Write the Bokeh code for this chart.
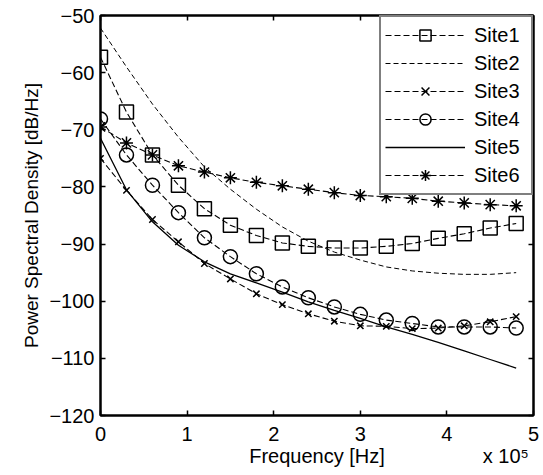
from bokeh.plotting import figure
from bokeh.models import Range1d, LinearAxis, Legend, LegendItem, FixedTicker
from bokeh.embed import file_html
from bokeh.resources import INLINE

# ---- data ----
freq_hz = [0, 30000, 60000, 90000, 120000, 150000, 180000, 210000, 240000,
           270000, 300000, 330000, 360000, 390000, 420000, 450000, 480000]
site1 = [-57.3, -66.9, -74.4, -79.7, -83.8, -86.7, -88.5, -89.8, -90.4,
         -90.7, -90.7, -90.4, -89.9, -89.0, -88.2, -87.2, -86.4]
site2 = [-52.2, -59.0, -65.5, -71.3, -76.5, -80.4, -83.9, -87.0, -89.5,
         -91.4, -92.8, -94.0, -94.7, -95.1, -95.3, -95.3, -95.0]
site3 = [-75.0, -80.6, -85.7, -89.6, -93.4, -96.1, -98.7, -100.6, -102.2,
         -103.5, -104.3, -104.4, -104.8, -104.7, -104.3, -103.6, -102.7]
site4 = [-68.1, -74.4, -79.7, -84.5, -88.9, -92.2, -95.2, -97.5, -99.4,
         -101.0, -102.3, -103.3, -103.9, -104.5, -104.5, -104.5, -104.7]
site5 = [-71.5, -80.5, -86.1, -90.2, -93.1, -95.2, -96.8, -98.4, -100.1,
         -101.6, -103.0, -104.5, -105.8, -107.2, -108.7, -110.2, -111.7]
site6 = [-69.5, -72.3, -74.4, -76.3, -77.4, -78.4, -79.2, -79.8, -80.4,
         -81.0, -81.5, -81.7, -82.0, -82.5, -82.8, -83.1, -83.3]
series_names = ["Site1", "Site2", "Site3", "Site4", "Site5", "Site6"]
x_ticks = [0, 1, 2, 3, 4, 5]
y_ticks = [-120, -110, -100, -90, -80, -70, -60, -50]
x_scale = 1e5
x_title = "Frequency [Hz]"
x_exponent = "x 10\u2075"
y_title = "Power Spectral Density [dB/Hz]"

FONT = "Liberation Sans"
x = [f / x_scale for f in freq_hz]

p = figure(width=543, height=475, output_backend="svg", toolbar_location=None,
           x_range=Range1d(0, 5), y_range=Range1d(-120, -50),
           min_border_left=100, min_border_right=10, min_border_top=15,
           min_border_bottom=60)
p.grid.visible = False
p.background_fill_color = "white"
p.border_fill_color = "white"
p.outline_line_color = "black"
p.outline_line_width = 2

def style_axis(ax, ticks, show_labels=True):
    ax.ticker = FixedTicker(ticks=ticks)
    ax.axis_line_color = "black"
    ax.axis_line_width = 2
    ax.major_tick_in = 5
    ax.major_tick_out = 0
    ax.major_tick_line_color = "black"
    ax.major_tick_line_width = 1.5
    ax.minor_tick_in = 0
    ax.minor_tick_out = 0
    ax.minor_tick_line_color = None
    ax.major_label_text_font = FONT
    ax.major_label_text_color = "black"
    if show_labels:
        ax.major_label_text_font_size = "20px"
    else:
        ax.major_label_overrides = {t: "" for t in ticks}
        ax.major_label_text_font_size = "1px"
        ax.major_label_standoff = 0

xa = p.xaxis[0]
ya = p.yaxis[0]
style_axis(xa, x_ticks)
style_axis(ya, y_ticks)
xa.major_label_standoff = 11
ya.major_label_standoff = 6
ya.axis_label = y_title
ya.axis_label_text_font = FONT
ya.axis_label_text_font_style = "normal"
ya.axis_label_text_color = "black"
ya.axis_label_text_font_size = "19px"
ya.axis_label_standoff = 4

# second row under the x axis: axis title (centred) and the x10^5 exponent note
title_pos = 2.5
exp_pos = 4.68
xa2 = LinearAxis(ticker=FixedTicker(ticks=[title_pos, exp_pos]),
                 major_label_overrides={title_pos: x_title, exp_pos: x_exponent},
                 axis_line_color=None, major_tick_line_color=None,
                 minor_tick_line_color=None, major_tick_in=0, major_tick_out=0,
                 minor_tick_in=0, minor_tick_out=0, major_label_standoff=1,
                 major_label_text_font=FONT, major_label_text_font_size="20px",
                 major_label_text_color="black")
p.add_layout(xa2, "below")

ra = LinearAxis()
style_axis(ra, y_ticks, show_labels=False)
p.add_layout(ra, "right")
ta = LinearAxis()
style_axis(ta, x_ticks, show_labels=False)
p.add_layout(ta, "above")

lw = 1.1
items = []
r1l = p.line(x, site1, line_color="black", line_width=lw, line_dash="6 3")
r1s = p.scatter(x, site1, marker="square", size=14, line_color="black",
                line_width=1.5, fill_color=None)
items.append(LegendItem(label=series_names[0], renderers=[r1l, r1s]))
r2l = p.line(x, site2, line_color="black", line_width=1.0, line_dash="5 3")
items.append(LegendItem(label=series_names[1], renderers=[r2l]))
r3l = p.line(x, site3, line_color="black", line_width=lw, line_dash="6 3")
r3s = p.scatter(x, site3, marker="x", size=9, line_color="black",
                line_width=1.5)
items.append(LegendItem(label=series_names[2], renderers=[r3l, r3s]))
r4l = p.line(x, site4, line_color="black", line_width=lw, line_dash="6 3")
r4s = p.scatter(x, site4, marker="circle", size=14, line_color="black",
                line_width=1.5, fill_color=None)
items.append(LegendItem(label=series_names[3], renderers=[r4l, r4s]))
r5l = p.line(x, site5, line_color="black", line_width=1.3)
items.append(LegendItem(label=series_names[4], renderers=[r5l]))
r6l = p.line(x, site6, line_color="black", line_width=lw, line_dash="6 3")
r6s = p.scatter(x, site6, marker="asterisk", size=13, line_color="black",
                line_width=1.5)
items.append(LegendItem(label=series_names[5], renderers=[r6l, r6s]))

legend = Legend(items=items, location="top_right", margin=0, padding=4,
                spacing=0, glyph_width=80, glyph_height=28, label_height=28,
                label_width=53, label_standoff=9, label_text_font=FONT,
                label_text_font_size="20px", label_text_color="black",
                border_line_color="black", border_line_width=2,
                background_fill_color="white", background_fill_alpha=1.0)
p.add_layout(legend)

open("out.html", "w").write(file_html(p, INLINE))
